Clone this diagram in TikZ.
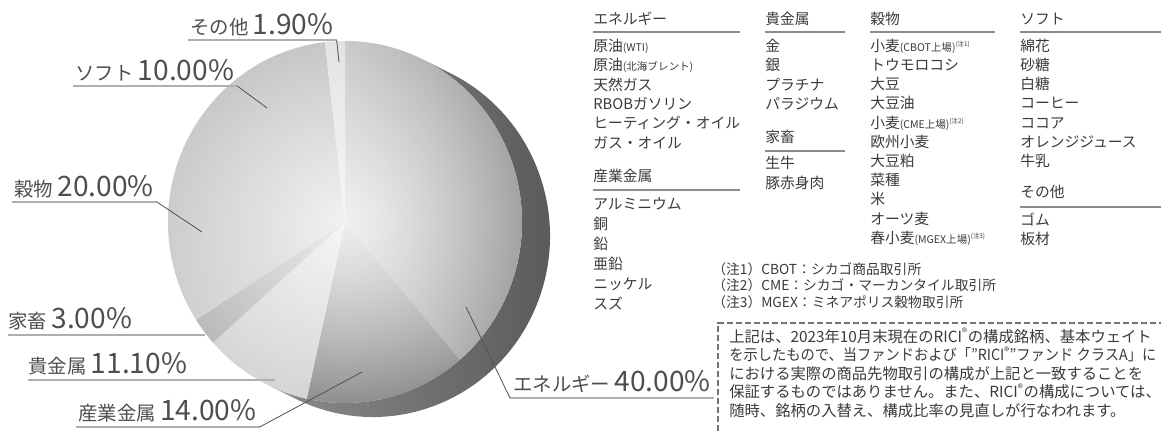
\documentclass[tikz,border=0pt]{standalone}
\usepackage{fontspec}
\setmainfont{Noto Sans CJK JP}
\usetikzlibrary{fadings}

\definecolor{txtgray}{HTML}{3A3A3A}
\definecolor{rulegray}{HTML}{8C8C8C}
\definecolor{leadgray}{HTML}{555555}

\tikzfading[name=pieglow, inner color=transparent!0, outer color=transparent!100]

\tikzset{
  lbl/.style={anchor=base west, inner sep=0pt, text=txtgray!90, font=\fontsize{13.8}{16}\selectfont},
  item/.style={anchor=west, inner sep=0pt, text=txtgray, font=\fontsize{10.5}{12}\selectfont, text height=0.8em, text depth=0.2em},
  head/.style={item},
  note/.style={item, font=\fontsize{9.8}{11}\selectfont},
  boxtxt/.style={item, font=\fontsize{10.9}{12}\selectfont},
  rule/.style={draw=rulegray, line width=1.4pt},
  ul/.style={draw=rulegray!70, line width=1.3pt},
  lead/.style={draw=leadgray, line width=0.6pt},
  boxline/.style={draw=black!55, line width=0.8pt, dash pattern=on 4.3pt off 2.1pt}
}

\newcommand\pct[1]{{\fontsize{20}{22}\selectfont #1\%}}
\newcommand\sm[1]{{\fontsize{7.5}{9}\selectfont #1}}
\newcommand\nt[1]{\raisebox{0.6ex}{\fontsize{4.5}{5}\selectfont (注#1)}}

\newcommand\pieslice[3]{
  \begin{scope}
    \clip (pc) -- ++(#1:177 and 181) arc[start angle=#1, end angle=#2, x radius=177, y radius=181] -- cycle;
    \shade[#3] (pc) ellipse[x radius=180, y radius=184];
  \end{scope}
}

\begin{document}
\begin{tikzpicture}[x=0.025cm, y=0.025cm]

\useasboundingbox (0,0) rectangle (1161,432);

\coordinate (pc) at (345,210);

\shade[left color=black!45, right color=black!66] (pc) ++(63.9:177 and 181) -- ++(28,-14) arc[start angle=63.9, end angle=-116.1, x radius=177, y radius=181] -- ++(-28,14) arc[start angle=243.9, end angle=423.9, x radius=177, y radius=181] -- cycle;

\pieslice{310.4}{450}{left color=black!6, right color=black!48}
\pieslice{257.5}{310.4}{top color=black!6, bottom color=black!58}
\pieslice{221.8}{257.5}{top color=black!14, bottom color=black!22}
\pieslice{212.7}{221.8}{top color=black!32, bottom color=black!36}
\pieslice{96.5}{212.7}{top color=black!29, bottom color=black!22}
\pieslice{90}{96.5}{top color=black!14, bottom color=black!14}

\begin{scope}
  \clip (pc) ellipse[x radius=177, y radius=181];
  \fill[white, path fading=pieglow, fill opacity=0.8] (pc) ellipse[x radius=250, y radius=256];
\end{scope}

\node[lbl] (lbOther) at (190,397) {その他 \pct{1.90}};
\node[lbl] (lbSoft) at (75,351) {ソフト \pct{10.00}};
\node[lbl] (lbGrain) at (14,235) {穀物 \pct{20.00}};
\node[lbl] (lbLive) at (8,103) {家畜 \pct{3.00}};
\node[lbl] (lbPrec) at (28,58) {貴金属 \pct{11.10}};
\node[lbl] (lbInd) at (78,11) {産業金属 \pct{14.00}};
\node[lbl] (lbEnergy) at (513,40) {エネルギー \pct{40.00}};

\coordinate (ptOther) at (339,370);
\coordinate (ptSoft) at (267,324);
\coordinate (ptGrain) at (202,200);
\coordinate (ptLive) at (205,97);
\coordinate (ptPrec) at (275,52);
\coordinate (ptInd) at (362,60);
\coordinate (ptEnergy) at (466,125);

\coordinate (ulOther) at ([shift={(3,-5)}]lbOther.base east);
\coordinate (ulSoft) at ([shift={(3,-5)}]lbSoft.base east);
\coordinate (ulGrain) at ([shift={(3,-5)}]lbGrain.base east);
\coordinate (ulInd) at ([shift={(3,-6)}]lbInd.base east);
\coordinate (ulEnergy) at ([shift={(-3,-6)}]lbEnergy.base west);

\draw[ul] ([shift={(-2,-5)}]lbOther.base west) -- (ulOther);
\draw[ul] ([shift={(-2,-5)}]lbSoft.base west) -- (ulSoft);
\draw[ul] ([shift={(-2,-5)}]lbGrain.base west) -- (ulGrain);
\draw[ul] ([shift={(-2,-6)}]lbInd.base west) -- (ulInd);
\draw[ul] ([shift={(3,-6)}]lbEnergy.base east) -- (ulEnergy);
\draw[ul] (lbLive.base west |- ptLive) -- (ptLive);
\draw[ul] (lbPrec.base west |- ptPrec) -- (ptPrec);

\draw[lead] (ulOther) -- (ptOther);
\draw[lead] (ulSoft) -- (ptSoft);
\draw[lead] (ulGrain) -- (ptGrain);
\draw[lead] (ulInd) -- (ptInd);
\draw[lead] (ulEnergy) -- (ptEnergy);

\node[head] (hEnergy) at (593,412) {エネルギー};
\draw[rule] ([shift={(0,-12)}]hEnergy.west) -- ++(147,0);
\foreach \lab [count=\i] in {原油\sm{(WTI)}, 原油\sm{(北海ブレント)}, 天然ガス, RBOBガソリン, ヒーティング・オイル, ガス・オイル}
  \node[item] (en\i) at (593,404.4-19.4*\i) {\lab};

\node[head] (hInd) at (593,255) {産業金属};
\draw[rule] ([shift={(0,-13)}]hInd.west) -- ++(147,0);
\foreach \lab [count=\i] in {アルミニウム, 銅, 鉛, 亜鉛, ニッケル, スズ}
  \node[item] (in\i) at (593,247-20*\i) {\lab};

\node[head] (hPrec) at (765,412) {貴金属};
\draw[rule] ([shift={(0,-12)}]hPrec.west) -- ++(80,0);
\foreach \lab [count=\i] in {金, 銀, プラチナ, パラジウム}
  \node[item] (pr\i) at (765,404.4-19.4*\i) {\lab};

\node[head] (hLive) at (765,294) {家畜};
\draw[rule] ([shift={(0,-13)}]hLive.west) -- ++(80,0);
\foreach \lab [count=\i] in {生牛, 豚赤身肉}
  \node[item] (lv\i) at (765,288-20*\i) {\lab};

\node[head] (hGrain) at (870,412) {穀物};
\draw[rule] ([shift={(0,-12)}]hGrain.west) -- ++(125,0);
\foreach \lab [count=\i] in {小麦\sm{(CBOT上場)}\nt{1}, トウモロコシ, 大豆, 大豆油, 小麦\sm{(CME上場)}\nt{2}, 欧州小麦, 大豆粕, 菜種, 米, オーツ麦, 春小麦\sm{(MGEX上場)}\nt{3}}
  \node[item] (gr\i) at (870,404.2-19.2*\i) {\lab};

\node[head] (hSoft) at (1020,412) {ソフト};
\draw[rule] ([shift={(0,-12)}]hSoft.west) -- ++(141,0);
\foreach \lab [count=\i] in {綿花, 砂糖, 白糖, コーヒー, ココア, オレンジジュース, 牛乳}
  \node[item] (sf\i) at (1020,404.2-19.2*\i) {\lab};

\node[head] (hOther) at (1020,239) {その他};
\draw[rule] ([shift={(0,-14)}]hOther.west) -- ++(141,0);
\foreach \lab [count=\i] in {ゴム, 板材}
  \node[item] (ot\i) at (1020,230-19*\i) {\lab};

\node[note] (n1) at (712,162) {（注1）CBOT：シカゴ商品取引所};
\node[note] (n2) at (712,145.5) {（注2）CME：シカゴ・マーカンタイル取引所};
\node[note] (n3) at (712,129) {（注3）MGEX：ミネアポリス穀物取引所};

\draw[boxline] (1165,109) -- (718,109) -- (718,-4);
\foreach \lab [count=\i] in {上記は、2023年10月末現在のRICI\textsuperscript{®}の構成銘柄、基本ウェイト, \scalebox{0.93}[1]{を示したもので、当ファンドおよび「"RICI\textsuperscript{®}"ファンド クラスA」に}, における実際の商品先物取引の構成が上記と一致することを, 保証するものではありません。また、RICI\textsuperscript{®}の構成については、, 随時、銘柄の入替え、構成比率の見直しが行なわれます。}
  \node[boxtxt] (bx\i) at (729,112.5-18.5*\i) {\lab};

\end{tikzpicture}
\end{document}
